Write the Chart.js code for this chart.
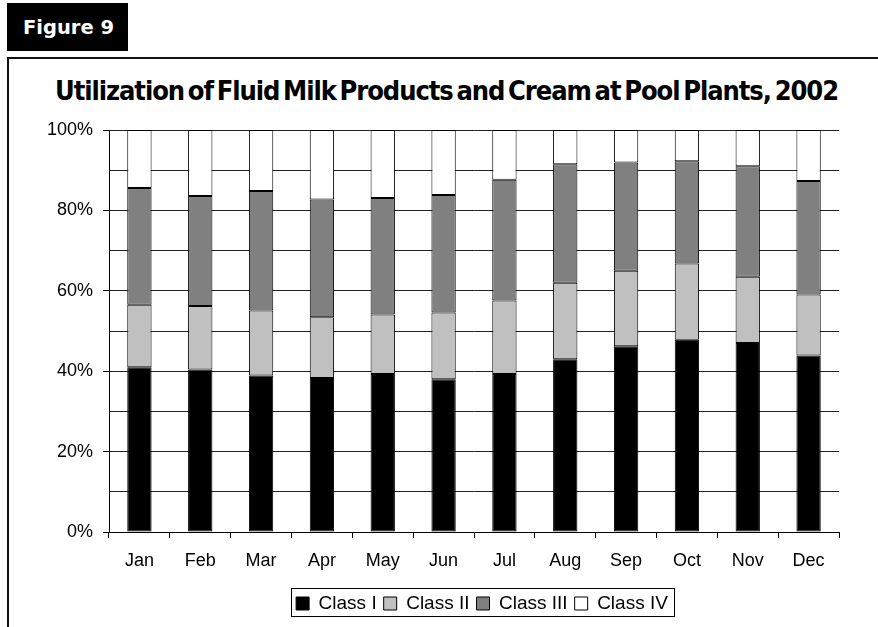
<!DOCTYPE html>
<html>
<head>
<meta charset="utf-8">
<script src="https://cdn.jsdelivr.net/npm/chart.js@4"></script>
<style>
html,body{margin:0;padding:0;background:#fff;width:878px;height:627px;overflow:hidden;position:relative;}
#fig{position:absolute;left:7px;top:3px;width:121px;height:48px;background:#000;}
#figtxt{position:absolute;left:16px;top:14.5px;color:#fff;font:bold 19.5px/19.5px "DejaVu Sans",Verdana,sans-serif;white-space:nowrap;}
#frame{position:absolute;left:7px;top:57px;width:900px;height:700px;border-left:2px solid #111;border-top:2px solid #111;box-sizing:border-box;}
#title{position:absolute;left:55px;top:77px;white-space:nowrap;font:bold 27px/27px "DejaVu Sans",Verdana,sans-serif;letter-spacing:-1.2px;word-spacing:-4px;color:#000;transform-origin:0 0;}
#c{position:absolute;left:0;top:0;}
</style>
</head>
<body>
<div id="fig"><div id="figtxt">Figure 9</div></div>
<div id="frame"></div>
<div id="title">Utilization of Fluid Milk Products and Cream at Pool Plants, 2002</div>
<canvas id="c" width="878" height="627"></canvas>
<script>
// ---- data (percent of utilization) ----
const months = ['Jan','Feb','Mar','Apr','May','Jun','Jul','Aug','Sep','Oct','Nov','Dec'];
const seriesNames = ['Class I','Class II','Class III','Class IV'];
const classI   = [41.0, 40.4, 38.9, 38.3, 39.3, 38.0, 39.3, 43.0, 46.2, 47.8, 47.0, 43.9];
const classII  = [15.5, 15.8, 16.2, 15.1, 14.8, 16.6, 18.3, 19.0, 18.8, 19.0, 16.5, 15.2];
const classIII = [29.1, 27.4, 29.7, 29.3, 29.0, 29.2, 30.0, 29.5, 26.9, 25.4, 27.5, 28.2];
const classIV  = [14.4, 16.4, 15.2, 17.3, 16.9, 16.2, 12.4,  8.5,  8.1,  7.8,  9.0, 12.7];
const yTickLabels = ['0%','20%','40%','60%','80%','100%'];

// fit title width
(function(){
  const t = document.getElementById('title');
  const w = t.getBoundingClientRect().width;
  t.style.transform = 'scaleX(' + (783 / w) + ')';
})();

const fills = ['#000000','#C0C0C0','#808080','#FFFFFF'];
const values = [classI, classII, classIII, classIV];
const FONT = '"Liberation Sans", Arial, sans-serif';

const legendFrame = {
  id: 'legendFrame',
  afterLayout(chart) {
    const lg = chart.legend;
    lg.left += 8; lg.right += 8;
  },
  afterDraw(chart) {
    const hb = chart.legend.legendHitBoxes;
    if (!hb || !hb.length) return;
    const first = hb[0], last = hb[hb.length - 1];
    const ctx = chart.ctx;
    ctx.save();
    ctx.strokeStyle = '#000';
    ctx.lineWidth = 1;
    const x0 = Math.round(first.left - 5) + 0.5;
    const x1 = Math.round(last.left + last.width + 6) + 0.5;
    const y0 = Math.round(first.top - 6) + 0.5;
    const y1 = Math.round(first.top + first.height + 3) + 0.5;
    ctx.strokeRect(x0, y0, x1 - x0, y1 - y0);
    ctx.restore();
  }
};

new Chart(document.getElementById('c'), {
  type: 'bar',
  data: {
    labels: months,
    datasets: seriesNames.map((name, i) => ({
      label: name,
      data: values[i],
      backgroundColor: fills[i],
      borderColor: '#000',
      borderWidth: 1,
      borderSkipped: false,
      barPercentage: 0.4,
      categoryPercentage: 1.0
    }))
  },
  options: {
    responsive: false,
    animation: false,
    devicePixelRatio: 1,
    layout: { padding: { left: 0, right: 39, top: 130, bottom: 4 } },
    plugins: {
      tooltip: { enabled: false },
      title: { display: false },
      legend: {
        position: 'bottom',
        fullSize: false,
        labels: {
          boxWidth: 13, boxHeight: 13, padding: 7,
          color: '#000',
          font: { family: FONT, size: 19 }
        }
      }
    },
    scales: {
      x: {
        stacked: true,
        grid: { display: true, drawOnChartArea: false, drawTicks: true, tickLength: 6, offset: true, color: '#000', tickColor: '#000' },
        border: { color: '#000', width: 1 },
        ticks: { color: '#000', font: { family: FONT, size: 18 }, padding: 12, maxRotation: 0, autoSkip: false },
        afterFit: s => { s.height = 55; }
      },
      y: {
        stacked: true,
        min: 0, max: 100,
        grid: {
          color: '#222',
          tickLength: 6,
          tickColor: c => (c.tick && c.tick.value % 20 === 0) ? '#000' : 'rgba(0,0,0,0)'
        },
        border: { color: '#000', width: 1 },
        ticks: {
          stepSize: 10,
          color: '#000',
          font: { family: FONT, size: 18 },
          padding: 10,
          callback: v => (v % 20 === 0) ? yTickLabels[v / 20] : ''
        },
        afterFit: s => { s.width = 109; }
      }
    }
  },
  plugins: [legendFrame]
});
</script>
</body>
</html>
